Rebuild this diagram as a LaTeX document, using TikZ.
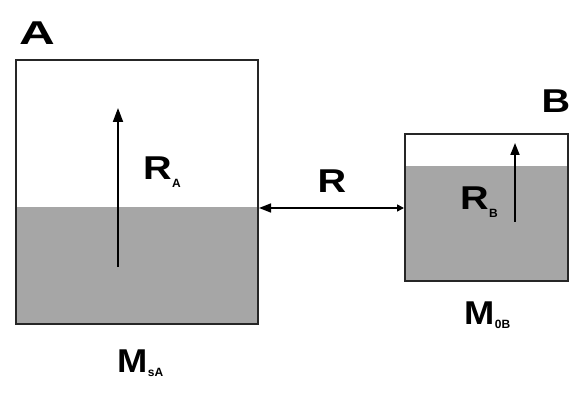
\documentclass[tikz,border=0pt]{standalone}
\usepackage{fontspec}
\setmainfont{Liberation Sans}
\usetikzlibrary{arrows.meta}
\definecolor{fillgray}{HTML}{A6A6A6}
\newcommand{\wideText}[2]{\scalebox{#1}[1]{#2}}
\begin{document}
\begin{tikzpicture}[x=1pt,y=1pt,
  box/.style={draw=black!85,line width=2pt},
  lab/.style={font=\fontsize{33}{33}\selectfont\bfseries,inner sep=0pt},
  sub/.style={font=\fontsize{12}{12}\selectfont\bfseries,inner sep=0pt},
  arr/.style={line width=1.8pt,-{Triangle[length=14pt,width=10pt]}}]
\useasboundingbox (0,0) rectangle (569,395);
% box A
\fill[fillgray] (15,70) rectangle (257,188);
\node[box,minimum width=242pt,minimum height=264pt,anchor=south west,inner sep=0pt] (boxA) at (15,70) {};
% box B
\fill[fillgray] (404,113) rectangle (567,229);
\node[box,minimum width=163pt,minimum height=147pt,anchor=south west,inner sep=0pt] (boxB) at (404,113) {};
% internal arrows
\coordinate (a0) at (118,128);
\coordinate (a1) at (118,287);
\draw[arr] (a0) -- (a1);
\coordinate (b0) at (515,173);
\coordinate (b1) at (515,252);
\draw[arr,-{Triangle[length=12pt,width=9pt]}] (b0) -- (b1);
% R arrow
\draw[line width=1.5pt,{Triangle[length=12pt,width=9pt]}-{Triangle[length=7pt,width=7pt]}] (boxA.east |- 0,187) -- (boxB.west |- 0,187);
% labels
\node[lab,anchor=base] (la) at (37,350) {\wideText{1.5}{A}};
\node[lab,anchor=base] (lb) at (556,282) {\wideText{1.2}{B}};
\node[lab,anchor=base] (lr) at (332,202) {\wideText{1.2}{R}};
\node[lab,anchor=base west] (ra) at (143,215) {\wideText{1.2}{R}};
\node[sub,anchor=base west] (ras) at (ra.base east) [yshift=-8pt] {A};
\node[lab,anchor=base west] (rb) at (460,185) {\wideText{1.2}{R}};
\node[sub,anchor=base west] (rbs) at (rb.base east) [yshift=-8pt] {B};
\node[lab,anchor=base west] (ma) at (117,22) {\wideText{1.1}{M}};
\node[sub,anchor=base west] (mas) at (ma.base east) [yshift=-4pt] {sA};
\node[lab,anchor=base west] (mb) at (464,70) {\wideText{1.1}{M}};
\node[sub,anchor=base west] (mbs) at (mb.base east) [yshift=-4pt] {0B};
\end{tikzpicture}
\end{document}
